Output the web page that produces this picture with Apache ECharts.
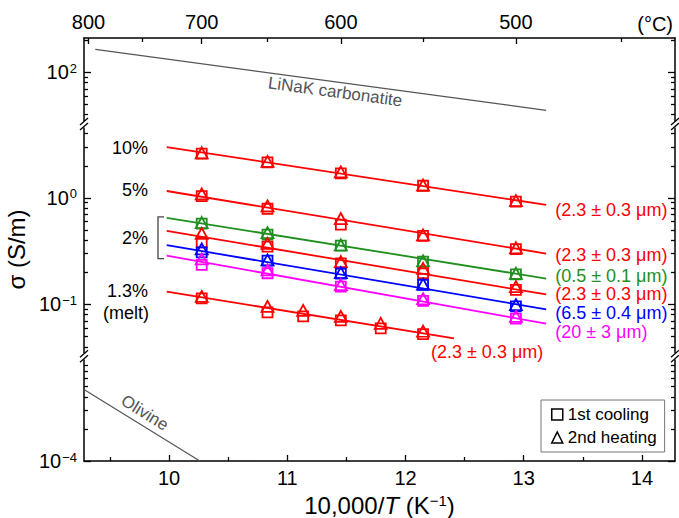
<!DOCTYPE html>
<html>
<head>
<meta charset="utf-8">
<style>
  html, body { margin: 0; padding: 0; background: #fff; }
  #chart { width: 679px; height: 518px; }
</style>
<script src="https://cdn.jsdelivr.net/npm/echarts@6/dist/echarts.min.js"></script>
</head>
<body>
<div id="chart"></div>
<script>
// measurement temperatures (°C)
var tempsC = [700, 650, 600, 550, 500];
var tempsMeltC = [700, 650, 625, 600, 575, 550];

// sigma (S/m): sq = 1st cooling, tri = 2nd heating
var sq10 = [2.60, 2.15, 1.70, 1.30, 0.92];
var tri10 = [2.65, 2.20, 1.75, 1.32, 0.94];
var sq5 = [1.04, 0.79, 0.56, 0.44, 0.33];
var tri5 = [1.09, 0.84, 0.64, 0.45, 0.34];
var sq2a = [0.572, 0.451, 0.356, 0.252, 0.191];   // 0.5 um
var tri2a = [0.587, 0.471, 0.361, 0.256, 0.196];
var sq2b = [0.382, 0.348, 0.243, 0.196, 0.137];   // 2.3 um
var tri2b = [0.464, 0.374, 0.252, 0.218, 0.147];
var sq2c = [0.308, 0.258, 0.195, 0.153, 0.0958];  // 6.5 um
var tri2c = [0.332, 0.262, 0.199, 0.155, 0.0993];
var sq2d = [0.235, 0.196, 0.147, 0.108, 0.0735];  // 20 um
var tri2d = [0.267, 0.211, 0.153, 0.113, 0.0773];
var sqMelt = [0.114, 0.0842, 0.0773, 0.0708, 0.0597, 0.0525];
var triMelt = [0.119, 0.0958, 0.0879, 0.0773, 0.0664, 0.056];

// fitted lines (10,000/T endpoints and sigma)
var fitX = [9.98, 13.19];
var fitMeltX = [9.98, 12.41];
var fit10 = [3.0, 0.86];
var fit5 = [1.16, 0.30];
var fit2a = [0.65, 0.175];
var fit2b = [0.49, 0.124];
var fit2c = [0.36, 0.09];
var fit2d = [0.287, 0.066];
var fitMelt = [0.132, 0.048];

// reference lines
var linakX = [9.376, 13.19];
var linak = [164, 44];
var olivineX = [9.28, 10.26];
var olivine = [4.7e-4, 1e-4];

// axes
var xMin = 9.28, xMax = 14.28;
var xMajor = [10, 11, 12, 13, 14];
var xMinor = [9.5, 10.5, 11.5, 12.5, 13.5];
var topMajorC = [800, 700, 600, 500];
var topMinorC = [750, 650, 550, 450];
var yMin = 1e-4, yMax = 210;
var yMajor = [1e-4, 0.1, 1, 100];
var yMinor = [2e-4, 3e-4, 4e-4, 5e-4, 6e-4, 7e-4, 8e-4,
  0.04, 0.05, 0.06, 0.07, 0.08, 0.09, 0.2, 0.3, 0.4, 0.5, 0.6, 0.7, 0.8, 0.9,
  2, 3, 4, 40, 50, 60, 70, 80, 90, 200];
var yBreaks = [{ start: 9e-4, end: 0.035 }, { start: 4.6, end: 35 }];

var RED = '#ff0000', GREEN = '#1f8f1f', BLUE = '#0000ff', MAG = '#ff00ff', GRAY = '#555555';
var FONT = '"Liberation Sans", Arial, sans-serif';

function toX(c) { return 10000 / (c + 273.15); }
function pts(xs, ys) { return xs.map(function(x, i) { return [x, ys[i]]; }); }

var chart = echarts.init(document.getElementById('chart'), null, { renderer: 'svg' });

function xAx(pos, major, vals) {
  return {
    type: 'value', position: pos, min: xMin, max: xMax,
    axisLine: { show: major, lineStyle: { color: '#000', width: 1.5 } },
    axisTick: { show: true, inside: true, length: major ? 6 : 4, customValues: vals, lineStyle: { color: '#000', width: 1.3 } },
    axisLabel: {
      show: major, customValues: vals, color: '#000', fontSize: 20, fontFamily: FONT,
      margin: pos === 'top' ? 6 : 7,
      formatter: pos === 'top' ? function(v) { return Math.round(10000 / v - 273.15); } : function(v) { return v; }
    },
    splitLine: { show: false }
  };
}

function yAx(pos, major) {
  var vals = major ? yMajor : yMinor;
  return {
    type: 'log', logBase: 10, position: pos, min: yMin, max: yMax,
    breaks: yBreaks.map(function(b) { return { start: b.start, end: b.end, gap: '1.5%' }; }),
    breakArea: { show: false },
    axisLine: { show: major, lineStyle: { color: '#000', width: 1.5 } },
    axisTick: { show: true, inside: true, length: major ? 7 : 4, customValues: vals, lineStyle: { color: '#000', width: 1.3 } },
    axisLabel: {
      show: major && pos === 'left', customValues: yMajor, margin: 7,
      formatter: function(v) {
        var e = Math.round(Math.log(v) / Math.LN10);
        return '{b|10}{s|' + (e < 0 ? '\u2212' + (-e) : e) + '}';
      },
      rich: {
        b: { fontSize: 20, fontFamily: FONT, color: '#000' },
        s: { fontSize: 13, fontFamily: FONT, color: '#000', verticalAlign: 'top', padding: [0, 0, 8, 1] }
      }
    },
    splitLine: { show: false }
  };
}

var xAxes = [xAx('bottom', true, xMajor), xAx('bottom', false, xMinor),
  xAx('top', true, topMajorC.map(toX)), xAx('top', false, topMinorC.map(toX))];
xAxes[0].name = '10,000/{i|T} (K{s|\u22121})';
xAxes[0].nameLocation = 'middle';
xAxes[0].nameGap = 29;
xAxes[0].nameTextStyle = {
  rich: {
    i: { fontSize: 24, fontFamily: FONT, fontStyle: 'italic', color: '#000' },
    s: { fontSize: 15, fontFamily: FONT, color: '#000', verticalAlign: 'top', padding: [0, 0, 10, 0] }
  },
  fontSize: 24, fontFamily: FONT, color: '#000'
};

var yAxes = [yAx('left', true), yAx('left', false), yAx('right', true), yAx('right', false)];
yAxes[0].name = '\u03c3 (S/m)';
yAxes[0].nameLocation = 'middle';
yAxes[0].nameGap = 52;
yAxes[0].nameTextStyle = { fontSize: 24, fontFamily: FONT, color: '#000' };

function fitSeries(xs, ys, color, text, off) {
  return {
    type: 'line', data: pts(xs, ys), symbol: 'none', silent: true,
    lineStyle: { color: color, width: 1.8 },
    endLabel: { show: !!text, formatter: text, color: color, fontSize: 18, lineHeight: 15, fontFamily: FONT, offset: off }
  };
}
function markSeries(name, xs, ys, color) {
  var tri = name === '2nd heating';
  return {
    type: 'scatter', name: name, data: pts(xs, ys),
    symbol: tri ? 'triangle' : 'rect', symbolSize: tri ? [12, 11] : 10,
    itemStyle: { color: 'transparent', borderColor: color, borderWidth: 1.8, opacity: 1 }
  };
}

var xs = tempsC.map(toX), xsMelt = tempsMeltC.map(toX);
var um23 = '(2.3 \u00b1 0.3 \u03bcm)';

var series = [
  fitSeries(fitX, fit10, RED, um23, [1, 5]),
  fitSeries(fitX, fit5, RED, um23, [1, 1]),
  fitSeries(fitX, fit2a, GREEN, '(0.5 \u00b1 0.1 \u03bcm)', [1, -3]),
  fitSeries(fitX, fit2b, RED, um23, [1, 0]),
  fitSeries(fitX, fit2c, BLUE, '(6.5 \u00b1 0.4 \u03bcm)', [1, 4]),
  fitSeries(fitX, fit2d, MAG, '(20 \u00b1 3 \u03bcm)', [1, 8]),
  fitSeries(fitMeltX, fitMelt, RED, um23, [-31, 14]),
  { type: 'line', data: pts(linakX, linak), symbol: 'none', silent: true, lineStyle: { color: GRAY, width: 1.2 } },
  { type: 'line', data: pts(olivineX, olivine), symbol: 'none', silent: true, lineStyle: { color: GRAY, width: 1.2 } },
  markSeries('1st cooling', xs, sq10, RED), markSeries('2nd heating', xs, tri10, RED),
  markSeries('1st cooling', xs, sq5, RED), markSeries('2nd heating', xs, tri5, RED),
  markSeries('1st cooling', xs, sq2a, GREEN), markSeries('2nd heating', xs, tri2a, GREEN),
  markSeries('1st cooling', xs, sq2b, RED), markSeries('2nd heating', xs, tri2b, RED),
  markSeries('1st cooling', xs, sq2c, BLUE), markSeries('2nd heating', xs, tri2c, BLUE),
  markSeries('1st cooling', xs, sq2d, MAG), markSeries('2nd heating', xs, tri2d, MAG),
  markSeries('1st cooling', xsMelt, sqMelt, RED), markSeries('2nd heating', xsMelt, triMelt, RED)
];

var hollow = { color: 'transparent', borderColor: '#000', borderWidth: 1.5 };

chart.setOption({
  animation: false,
  grid: { left: 84, right: 4, top: 38, bottom: 57, containLabel: false, outerBoundsMode: 'none' },
  xAxis: xAxes,
  yAxis: yAxes,
  legend: {
    orient: 'vertical', left: 541, top: 400, padding: [6, 8, 6, 10], itemGap: 6,
    itemWidth: 11, itemHeight: 11, borderColor: '#777', borderWidth: 1,
    textStyle: { fontSize: 17, fontFamily: FONT, color: '#000' },
    selectedMode: false,
    data: [
      { name: '1st cooling', icon: 'rect', itemStyle: hollow },
      { name: '2nd heating', icon: 'triangle', itemStyle: hollow }
    ]
  },
  series: series
});

// annotations placed from the axes' own pixel mapping
function px(x, y) { return chart.convertToPixel({ xAxisIndex: 0, yAxisIndex: 0 }, [x, y]); }
var g = [];
function txt(x, y, s, opt) {
  g.push({ type: 'text', x: x, y: y, style: Object.assign({
    text: s, fill: '#000', font: '18px ' + FONT, textAlign: 'right', textVerticalAlign: 'middle'
  }, opt || {}) });
}
txt(148, 148, '10%');
txt(148, 190, '5%');
txt(148, 238, '2%');
txt(148, 291, '1.3%');
txt(149, 313, '(melt)');
txt(673, 24, '(\u00b0C)', { font: '20px ' + FONT });

// bracket for the 2% group
var bTop = px(xMin, fit2a[0])[1] - 1, bBot = px(xMin, fit2d[0])[1] + 3;
g.push({ type: 'polyline', shape: { points: [[164, bTop], [158, bTop], [158, bBot], [164, bBot]] },
  style: { stroke: '#444', lineWidth: 1.3, fill: null } });

// reference line labels along their lines
function lineLabel(xs2, ys2, t, off, s) {
  var p1 = px(xs2[0], ys2[0]), p2 = px(xs2[1], ys2[1]);
  var dx = p2[0] - p1[0], dy = p2[1] - p1[1], len = Math.sqrt(dx * dx + dy * dy);
  var cx = p1[0] + t * dx + off * (-dy / len), cy = p1[1] + t * dy + off * (dx / len);
  g.push({ type: 'text', x: cx, y: cy, rotation: -Math.atan2(dy, dx),
    style: { text: s, fill: GRAY, font: '17px ' + FONT, textAlign: 'center', textVerticalAlign: 'middle' } });
}
lineLabel(linakX, linak, 0.535, 10, 'LiNaK carbonatite');
lineLabel(olivineX, olivine, 0.47, -12, 'Olivine');

// break marks on left and right axes
yBreaks.forEach(function(b) {
  var y1 = chart.convertToPixel({ yAxisIndex: 0 }, b.end);
  var y2 = chart.convertToPixel({ yAxisIndex: 0 }, b.start);
  var c = (y1 + y2) / 2;
  [84, 675].forEach(function(ax) {
    g.push({ type: 'rect', shape: { x: ax - 3, y: c - 3, width: 6, height: 6 }, style: { fill: '#fff' }, z: 100 });
    g.push({ type: 'line', shape: { x1: ax - 4, y1: c + 1, x2: ax + 4, y2: c - 6 }, style: { stroke: '#000', lineWidth: 1.3 }, z: 101 });
    g.push({ type: 'line', shape: { x1: ax - 4, y1: c + 6, x2: ax + 4, y2: c - 1 }, style: { stroke: '#000', lineWidth: 1.3 }, z: 101 });
  });
});

chart.setOption({ graphic: g });
</script>
</body>
</html>
